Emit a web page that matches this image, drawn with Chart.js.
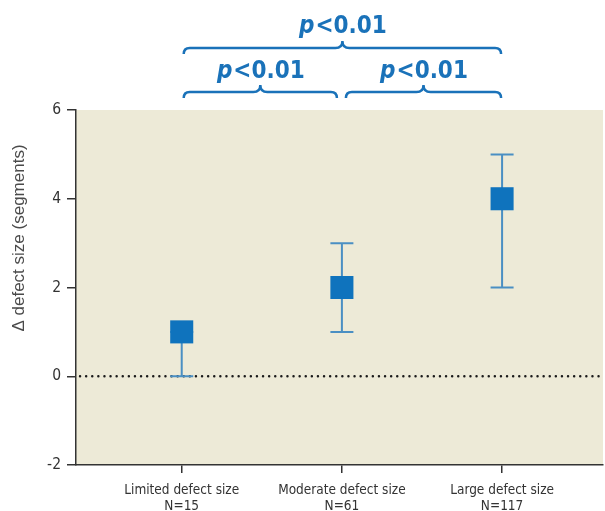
<!DOCTYPE html>
<html>
<head>
<meta charset="utf-8">
<script src="https://cdn.jsdelivr.net/npm/chart.js@4"></script>
<style>
  html, body { margin: 0; padding: 0; background: #fff; overflow: hidden; }
  #wrap { width: 605px; height: 511px; }
  canvas { display: block; }
</style>
</head>
<body>
<div id="wrap"><canvas id="defectChart" width="605" height="511"></canvas></div>
<script>
// data
const categories = ['Limited defect size', 'Moderate defect size', 'Large defect size'];
const sampleSizes = ['N=15', 'N=61', 'N=117'];
const categoryPos = [1, 2, 3];
const means = [1, 2, 4];
const lowerCI = [0, 1, 2];
const upperCI = [1, 3, 5];
const yTicks = [-2, 0, 2, 4, 6];
// comparisons: [from index, to index, label, level]
const comparisons = [
    [0, 2, 'p<0.01', 0],
    [0, 1, 'p<0.01', 1],
    [1, 2, 'p<0.01', 1]
];

const NARROW = "'Liberation Sans Narrow', 'DejaVu Sans Condensed', sans-serif";
const BLUE = '#0f73bd';
const BAR_BLUE = '#4a8fc3';
const INK = '#333333';

// plot background + dotted zero line
const backdrop = {
    id: 'backdrop',
    beforeDraw(chart) {
        const { ctx, chartArea: a } = chart;
        ctx.save();
        ctx.fillStyle = '#edead7';
        ctx.fillRect(a.left, a.top, a.right - a.left, a.bottom - a.top);
        ctx.restore();
    },
    beforeDatasetsDraw(chart) {
        const { ctx, chartArea: a, scales } = chart;
        const y0 = scales.y.getPixelForValue(0);
        ctx.save();
        ctx.strokeStyle = '#1a1a1a';
        ctx.lineWidth = 2.4;
        ctx.lineCap = 'round';
        ctx.setLineDash([0.1, 6]);
        ctx.beginPath();
        ctx.moveTo(a.left + 4, y0);
        ctx.lineTo(a.right, y0);
        ctx.stroke();
        ctx.restore();

        // error bars, behind the squares
        ctx.save();
        ctx.strokeStyle = BAR_BLUE;
        ctx.lineWidth = 2;
        const cap = 11.5;
        categoryPos.forEach((p, i) => {
            const x = scales.x.getPixelForValue(p);
            const lo = scales.y.getPixelForValue(lowerCI[i]);
            const hi = scales.y.getPixelForValue(upperCI[i]);
            ctx.beginPath();
            ctx.moveTo(x, lo); ctx.lineTo(x, hi);
            ctx.moveTo(x - cap, lo); ctx.lineTo(x + cap, lo);
            ctx.moveTo(x - cap, hi); ctx.lineTo(x + cap, hi);
            ctx.stroke();
        });
        ctx.restore();
    }
};

// y title + significance braces
const annotations = {
    id: 'annotations',
    afterDraw(chart) {
        const { ctx, scales } = chart;
        ctx.save();
        ctx.translate(19, 238);
        ctx.rotate(-Math.PI / 2);
        ctx.fillStyle = '#4a4a4a';
        ctx.font = "17px 'Liberation Sans', Arial, sans-serif";
        ctx.textAlign = 'center';
        ctx.textBaseline = 'middle';
        ctx.fillText('\u0394 defect size (segments)', 0, 0);
        ctx.restore();

        comparisons.forEach(([a, b, label, level]) => {
            let x1 = scales.x.getPixelForValue(categoryPos[a]) + 2;
            let x2 = scales.x.getPixelForValue(categoryPos[b]) - 1;
            if (level === 1) {
                if (a > 0) x1 += 2;
                if (b < categoryPos.length - 1) x2 -= 4;
            }
            const yLine = level === 0 ? 48 : 92;
            const textY = level === 0 ? 33 : 78;
            const mid = (x1 + x2) / 2;
            ctx.save();
            ctx.strokeStyle = '#1a72b9';
            ctx.lineWidth = 2.5;
            ctx.beginPath();
            ctx.moveTo(x1, yLine + 6);
            ctx.quadraticCurveTo(x1, yLine, x1 + 6, yLine);
            ctx.lineTo(mid - 7, yLine);
            ctx.quadraticCurveTo(mid, yLine, mid, yLine - 7);
            ctx.quadraticCurveTo(mid, yLine, mid + 7, yLine);
            ctx.lineTo(x2 - 6, yLine);
            ctx.quadraticCurveTo(x2, yLine, x2, yLine + 6);
            ctx.stroke();

            // italic p + bold rest
            ctx.fillStyle = '#1a72b9';
            ctx.textBaseline = 'alphabetic';
            const fItal = 'italic bold 24px ' + NARROW;
            const fBold = 'bold 24px ' + NARROW;
            ctx.font = fItal;
            const wp = ctx.measureText('p').width;
            ctx.font = fBold;
            const rest = label.slice(1);
            const wr = ctx.measureText(rest).width;
            const start = mid - (wp + wr) / 2;
            ctx.font = fItal;
            ctx.textAlign = 'left';
            ctx.fillText('p', start, textY);
            ctx.font = fBold;
            ctx.fillText(rest, start + wp + 1, textY);
            ctx.restore();
        });
    }
};

new Chart(document.getElementById('defectChart'), {
    type: 'scatter',
    data: {
        datasets: [{
            label: 'Mean',
            data: categoryPos.map((p, i) => ({ x: p, y: means[i] })),
            pointStyle: 'rect',
            pointRadius: 16.3,
            pointHoverRadius: 16.3,
            backgroundColor: BLUE,
            borderWidth: 0
        }]
    },
    options: {
        responsive: false,
        animation: false,
        layout: { autoPadding: false, padding: { top: 110, right: 2, left: 0, bottom: 0 } },
        plugins: {
            legend: { display: false },
            tooltip: { enabled: false }
        },
        scales: {
            x: {
                type: 'linear',
                min: 0.34,
                max: 3.63,
                afterBuildTicks: s => { s.ticks = categoryPos.map(v => ({ value: v })); },
                afterFit: s => { s.height = 46; s.paddingLeft = 0; s.paddingRight = 0; },
                grid: { drawOnChartArea: false, drawTicks: true, tickLength: 8, color: INK, lineWidth: 1.5 },
                border: { display: true, color: INK, width: 1.5 },
                ticks: {
                    padding: 10,
                    color: INK,
                    font: { family: NARROW, size: 13.5, lineHeight: 1.15 },
                    callback: v => {
                        const i = categoryPos.indexOf(v);
                        return i < 0 ? '' : [categories[i], sampleSizes[i]];
                    }
                }
            },
            y: {
                min: -2,
                max: 6,
                afterBuildTicks: s => { s.ticks = yTicks.map(v => ({ value: v })); },
                afterFit: s => { s.width = 76; s.paddingTop = 0; s.paddingBottom = 0; },
                grid: { drawOnChartArea: false, drawTicks: true, tickLength: 9, color: INK, lineWidth: 1.5 },
                border: { display: true, color: INK, width: 1.5 },
                ticks: {
                    padding: 6,
                    color: INK,
                    font: { family: NARROW, size: 15.5 }
                }
            }
        }
    },
    plugins: [backdrop, annotations]
});
</script>
</body>
</html>
